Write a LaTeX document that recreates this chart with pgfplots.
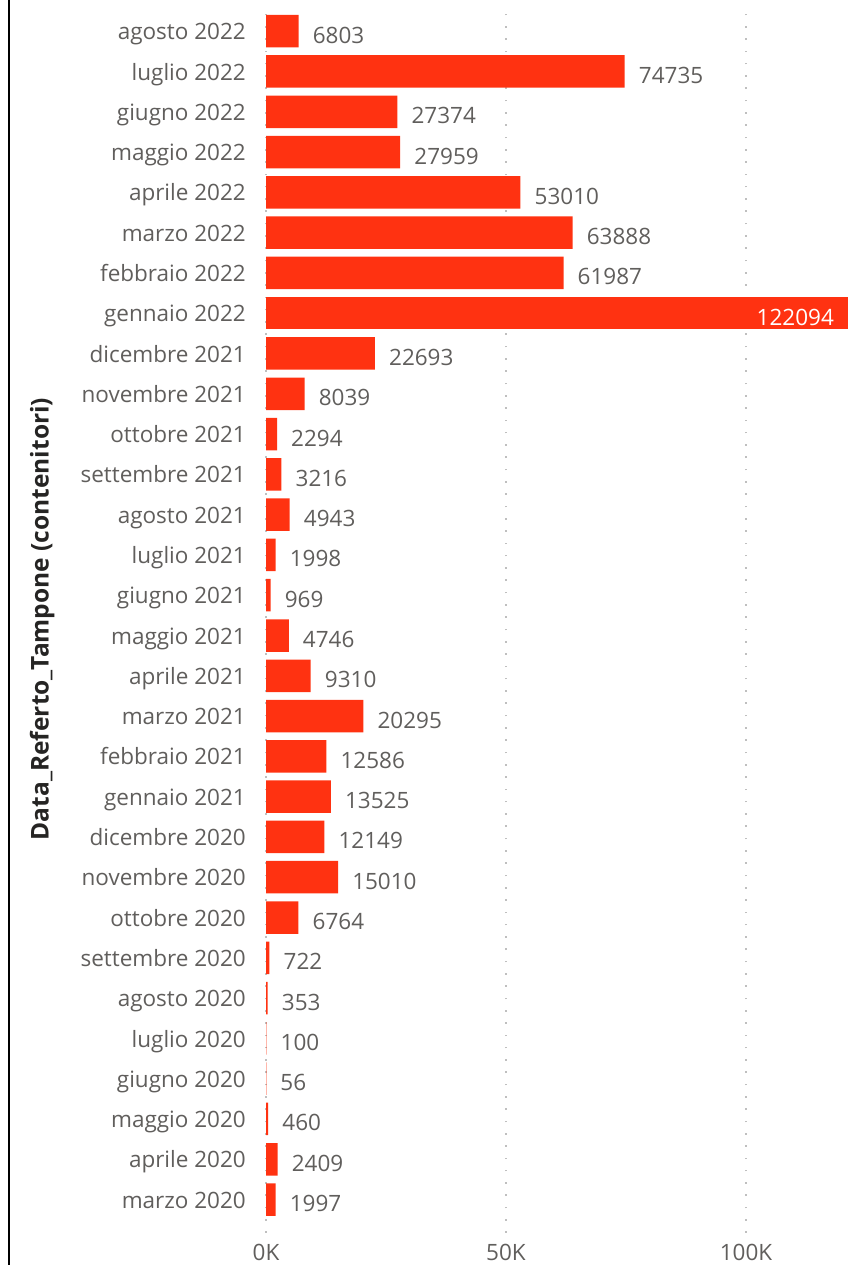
\documentclass[border=0pt]{standalone}
\usepackage{fontspec}
\setmainfont{Open Sans}
\usepackage{pgfplots}
\usepackage{pgfplotstable}
\pgfplotsset{compat=1.18}

\definecolor{barred}{RGB}{255,50,17}
\definecolor{lbl}{RGB}{96,94,92}
\definecolor{ttl}{RGB}{37,36,35}

% idx 0 = marzo 2020 (bottom) ... 29 = agosto 2022 (top)
\pgfplotstableread{
idx val
0 1997
1 2409
2 460
3 56
4 100
5 353
6 722
7 6764
8 15010
9 12149
10 13525
11 12586
12 20295
13 9310
14 4746
15 969
16 1998
17 4943
18 3216
19 2294
20 8039
21 22693
23 61987
24 63888
25 53010
26 27959
27 27374
28 74735
29 6803
}\mesi

\pgfplotstableread{
idx val
22 122094
}\picco

\begin{document}
\begin{tikzpicture}
\begin{axis}[
    name=ax,
    xbar,
    bar width=32.5pt,
    scale only axis,
    width=581pt,
    height=1228pt,
    xmin=0, xmax=121042,
    ymin=-0.83, ymax=29.65,
    clip=false,
    scaled x ticks=false,
    xtick={0,50000,100000},
    xticklabels={0K,50K,100K},
    ytick={0,...,29},
    yticklabels={marzo 2020,aprile 2020,maggio 2020,giugno 2020,luglio 2020,agosto 2020,settembre 2020,ottobre 2020,novembre 2020,dicembre 2020,gennaio 2021,febbraio 2021,marzo 2021,aprile 2021,maggio 2021,giugno 2021,luglio 2021,agosto 2021,settembre 2021,ottobre 2021,novembre 2021,dicembre 2021,gennaio 2022,febbraio 2022,marzo 2022,aprile 2022,maggio 2022,giugno 2022,luglio 2022,agosto 2022},
    axis line style={draw=none},
    major tick length=0pt,
    xmajorgrids,
    major grid style={dash pattern=on 1.6pt off 10.7pt, line width=1.6pt, color=black!25},
    yticklabel style={font=\fontsize{22.5}{27}\selectfont, text=lbl, anchor=base east, inner sep=0pt, xshift=-20pt, yshift=-8.6pt},
    xticklabel style={font=\fontsize{22.5}{27}\selectfont, text=lbl, anchor=north, inner sep=0pt, yshift=-11pt},
    ylabel={Data\_Referto\_Tampone (contenitori)},
    ylabel style={font=\fontsize{24.5}{29}\selectfont\bfseries, text=ttl, at={(rel axis cs:-0.385,0.5)}, anchor=center, rotate=0},
    point meta=explicit symbolic,
    nodes near coords,
]
\addplot[xbar, bar shift=0pt, draw=none, fill=barred,
    nodes near coords style={font=\fontsize{22.5}{27}\selectfont, text=lbl, anchor=base west, inner sep=0pt, xshift=14pt, yshift=-12pt}]
    table[x=val, y=idx, meta=val] {\mesi};
\addplot[xbar, bar shift=0pt, draw=none, fill=barred,
    nodes near coords style={font=\fontsize{22.5}{27}\selectfont, text=white, anchor=base east, inner sep=0pt, xshift=-18pt, yshift=-12pt}]
    table[x=val, y=idx, meta=val] {\picco};
\end{axis}
\draw[line width=2pt, black] ([xshift=-256.7pt, yshift=-40pt]ax.south west) -- ([xshift=-256.7pt, yshift=10pt]ax.north west);
\pgfresetboundingbox
\useasboundingbox ([xshift=-266pt, yshift=-32pt]ax.south west) rectangle ([yshift=5pt]ax.north east);
\end{tikzpicture}
\end{document}
